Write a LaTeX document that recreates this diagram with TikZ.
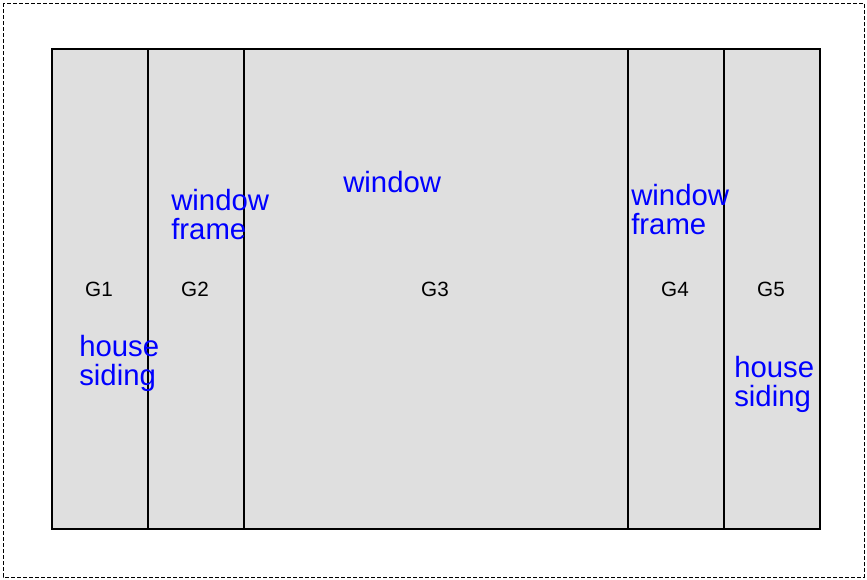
\documentclass[tikz,border=0pt]{standalone}
\usepackage{fontspec}
\setmainfont{Liberation Sans}
\usetikzlibrary{positioning}

\definecolor{panel}{RGB}{223,223,223}
\tikzset{
  wall/.style={line width=1.9pt},
  glabel/.style={font=\fontsize{15.5}{17}\selectfont},
  note/.style={text=blue, align=left, inner sep=0pt, anchor=north west,
    font=\fontsize{22}{22}\selectfont}
}

\begin{document}
\begin{tikzpicture}[x=0.75pt,y=-0.75pt]
		\useasboundingbox (0,0) rectangle (867,579);
		\draw [line width=0.6pt, dash pattern=on 3pt off 1.5pt] (3,3) rectangle (864,577);

		% the wall with its five pieces
		\draw [wall, fill=panel] (52,49) rectangle (820,529);
		\foreach \x in {148,244,628,724}
			\draw [wall] (\x,49) -- (\x,529);

		\draw (99,289) node [glabel] (g1) {G1};
		\draw (195,289) node [glabel] (g2) {G2};
		\draw (435,289) node [glabel] (g3) {G3};
		\draw (675,289) node [glabel] (g4) {G4};
		\draw (771,289) node [glabel] (g5) {G5};

		\draw (171,189) node [note] (frameL) {window\\frame};
		\draw (343,171) node [note] (win) {window};
		\draw (631,184) node [note] (frameR) {window\\frame};
		\draw (79,335) node [note] (sidingL) {house\\siding};
		\draw (734,356) node [note] (sidingR) {house\\siding};
	\end{tikzpicture}
\end{document}
